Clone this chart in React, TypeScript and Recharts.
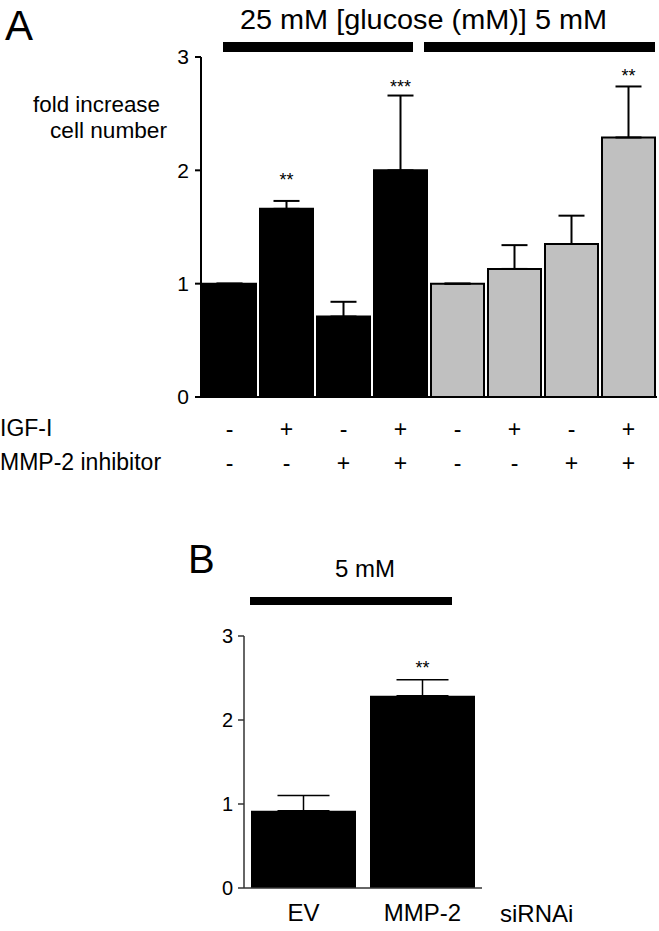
import React from 'react';
import { BarChart, Bar, XAxis, YAxis, ErrorBar, Cell, ReferenceDot } from 'recharts';

// Panel A data
const conditionsA = ['c1', 'c2', 'c3', 'c4', 'c5', 'c6', 'c7', 'c8'];
const glucoseA = ['25', '25', '25', '25', '5', '5', '5', '5'];
const foldA = [1.0, 1.66, 0.71, 2.0, 1.0, 1.13, 1.35, 2.29];
const errA = [0, 0.07, 0.13, 0.66, 0, 0.21, 0.25, 0.45];
const igfA = ['-', '+', '-', '+', '-', '+', '-', '+'];
const mmpInhA = ['-', '-', '+', '+', '-', '-', '+', '+'];
const sigA = ['', '**', '', '***', '', '', '', '**'];
const sigYA = [0, 1.92, 0, 2.74, 0, 0, 0, 2.84];
const ticksA = [0, 1, 2, 3];

// Panel B data
const categoriesB = ['EV', 'MMP-2'];
const foldB = [0.92, 2.29];
const errB = [0.18, 0.19];
const sigB = ['', '**'];
const sigYB = [0, 2.62];
const ticksB = [0, 1, 2, 3];

const FONT = '"Liberation Sans", Arial, sans-serif';

const dataA = conditionsA.map((c, i) => ({
  cat: c,
  fold: foldA[i],
  err: [0, errA[i]],
  glucose: glucoseA[i],
  igf: igfA[i],
  mmp: mmpInhA[i],
}));

const dataB = categoriesB.map((c, i) => ({
  cat: c,
  fold: foldB[i],
  err: [0, errB[i]],
}));

const SignTick = (props: any) => {
  const { x, y, index } = props;
  return (
    <g>
      <text x={x} y={y + 32} textAnchor="middle" dominantBaseline="central" fontSize={23} fontFamily={FONT} fill="#000">
        {igfA[index]}
      </text>
      <text x={x} y={y + 66} textAnchor="middle" dominantBaseline="central" fontSize={23} fontFamily={FONT} fill="#000">
        {mmpInhA[index]}
      </text>
    </g>
  );
};

export default function App() {
  return (
    <div style={{ position: 'absolute', left: 0, top: 0, width: 659, height: 931, background: '#fff', fontFamily: FONT }}>
      <div style={{ position: 'absolute', left: 0, top: 0 }}>
        <BarChart width={659} height={480} data={dataA} margin={{ top: 57, right: 2, bottom: 4, left: 0 }} barCategoryGap={2}>
          <XAxis
            dataKey="cat"
            height={79}
            tickSize={0}
            tickMargin={0}
            tickLine={false}
            axisLine={{ stroke: '#000', strokeWidth: 2 }}
            tick={<SignTick />}
            interval={0}
          />
          <YAxis
            width={201}
            domain={[0, 3]}
            ticks={ticksA}
            tickSize={6}
            tickMargin={6}
            axisLine={{ stroke: '#000', strokeWidth: 2 }}
            tickLine={{ stroke: '#000', strokeWidth: 2 }}
            tick={{ fontSize: 21, fill: '#000', fontFamily: FONT }}
            allowDataOverflow
          />
          <Bar dataKey="fold" isAnimationActive={false} stroke="#000" strokeWidth={2}>
            {dataA.map((d, i) => (
              <Cell key={i} fill={d.glucose === '25' ? '#000' : '#c0c0c0'} />
            ))}
            <ErrorBar dataKey="err" width={13} stroke="#000" strokeWidth={2} direction="y" />
          </Bar>
          {conditionsA.map((c, i) =>
            sigA[i] ? (
              <ReferenceDot
                key={c}
                x={c}
                y={sigYA[i]}
                r={0}
                ifOverflow="visible"
                label={{ value: sigA[i], position: 'center', fontSize: 18, fill: '#000', fontFamily: FONT }}
              />
            ) : null
          )}
        </BarChart>
      </div>

      <div style={{ position: 'absolute', left: 0, top: 600 }}>
        <BarChart width={490} height={331} data={dataB} margin={{ top: 36, right: 8, bottom: 3, left: 0 }} barCategoryGap={7}>
          <XAxis
            dataKey="cat"
            height={40}
            tickSize={0}
            tickMargin={16}
            tickLine={false}
            axisLine={{ stroke: '#333', strokeWidth: 1.5 }}
            tick={{ fontSize: 24, fill: '#000', fontFamily: FONT }}
            interval={0}
          />
          <YAxis
            width={244}
            domain={[0, 3]}
            ticks={ticksB}
            tickSize={6}
            tickMargin={5}
            axisLine={{ stroke: '#333', strokeWidth: 1.5 }}
            tickLine={{ stroke: '#333', strokeWidth: 1.5 }}
            tick={{ fontSize: 20, fill: '#000', fontFamily: FONT }}
          />
          <Bar dataKey="fold" isAnimationActive={false} fill="#000">
            <ErrorBar dataKey="err" width={26} stroke="#000" strokeWidth={1.5} direction="y" />
          </Bar>
          {categoriesB.map((c, i) =>
            sigB[i] ? (
              <ReferenceDot
                key={c}
                x={c}
                y={sigYB[i]}
                r={0}
                ifOverflow="visible"
                label={{ value: sigB[i], position: 'center', fontSize: 18, fill: '#000', fontFamily: FONT }}
              />
            ) : null
          )}
        </BarChart>
      </div>

      <svg width={659} height={931} style={{ position: 'absolute', left: 0, top: 0, pointerEvents: 'none' }}>
        <text x={5} y={40} fontSize={42} fontFamily={FONT} fill="#000">A</text>
        <text x={240} y={29} fontSize={28} fontFamily={FONT} fill="#000" textLength={367} lengthAdjust="spacingAndGlyphs">
          25 mM [glucose (mM)] 5 mM
        </text>
        <rect x={223} y={42} width={190} height={10} fill="#000" />
        <rect x={424} y={42} width={231} height={10} fill="#000" />
        <text x={33} y={112} fontSize={22} fontFamily={FONT} fill="#000" textLength={127} lengthAdjust="spacingAndGlyphs">fold increase</text>
        <text x={50} y={138} fontSize={22} fontFamily={FONT} fill="#000" textLength={117} lengthAdjust="spacingAndGlyphs">cell number</text>
        <text x={0} y={436} fontSize={23} fontFamily={FONT} fill="#000">IGF-I</text>
        <text x={0} y={470} fontSize={23} fontFamily={FONT} fill="#000">MMP-2 inhibitor</text>

        <text x={188} y={573} fontSize={40} fontFamily={FONT} fill="#000">B</text>
        <text x={365} y={577} textAnchor="middle" fontSize={24} fontFamily={FONT} fill="#000">5 mM</text>
        <rect x={250} y={597} width={202} height={8} fill="#000" />
        <text x={500} y={922} fontSize={24} fontFamily={FONT} fill="#000">siRNAi</text>
      </svg>
    </div>
  );
}
